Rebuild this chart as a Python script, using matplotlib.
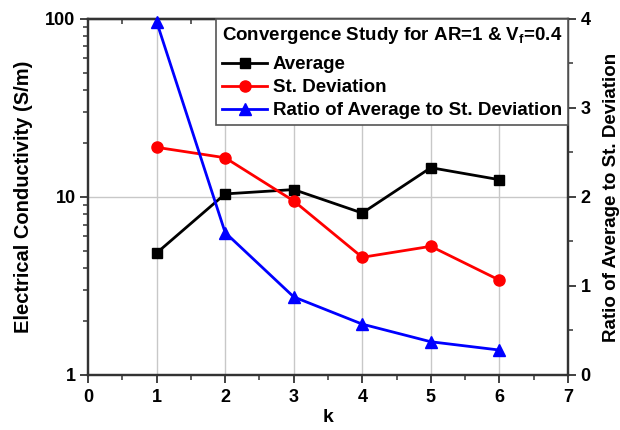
import matplotlib
matplotlib.use("Agg")
import matplotlib.pyplot as plt
from matplotlib.ticker import MultipleLocator, LogLocator, NullFormatter, FixedLocator

plt.rcParams['font.family'] = ['Liberation Sans', 'DejaVu Sans']
plt.rcParams['font.weight'] = 'bold'
plt.rcParams['mathtext.fontset'] = 'custom'
plt.rcParams['mathtext.rm'] = 'Liberation Sans:bold'
plt.rcParams['mathtext.it'] = 'Liberation Sans:bold'
plt.rcParams['mathtext.bf'] = 'Liberation Sans:bold'

k = [1, 2, 3, 4, 5, 6]
average = [4.84, 10.4, 11.0, 8.12, 14.6, 12.5]
st_deviation = [19.0, 16.6, 9.5, 4.58, 5.28, 3.41]
ratio = [3.97, 1.60, 0.877, 0.571, 0.373, 0.28]

spine_col = '#333333'
grid_col = '#c8c8c8'
tick_fs = 13
legend_fs = 13.5

fig = plt.figure(figsize=(6.2, 4.3), dpi=100)
ax = fig.add_axes([0.142, 0.128, 0.774, 0.828])
ax2 = ax.twinx()

ax.set_yscale('log')
ax.set_xlim(0, 7)
ax.set_ylim(1, 100)
ax2.set_ylim(0, 4)

# grid lines
for xv in range(1, 7):
    ax.axvline(xv, color=grid_col, lw=1.0, zorder=0)
ax.axhline(10, color=grid_col, lw=1.0, zorder=0)

l1, = ax.plot(k, average, color='black', lw=2, marker='s', ms=7,
              label='Average', zorder=3)
l2, = ax.plot(k, st_deviation, color='red', lw=2, marker='o', ms=8,
              label='St. Deviation', zorder=3)
l3, = ax2.plot(k, ratio, color='blue', lw=2, marker='^', ms=9,
               label='Ratio of Average to St. Deviation', zorder=3,
               clip_on=False)

# ticks
ax.xaxis.set_major_locator(MultipleLocator(1))
ax.xaxis.set_minor_locator(MultipleLocator(0.5))
ax.yaxis.set_major_locator(FixedLocator([1, 10, 100]))
ax.yaxis.set_minor_locator(LogLocator(base=10, subs=range(2, 10)))
ax.yaxis.set_minor_formatter(NullFormatter())
ax.set_yticklabels(['1', '10', '100'])
ax2.yaxis.set_major_locator(MultipleLocator(1))
ax2.yaxis.set_minor_locator(MultipleLocator(0.5))

ax.tick_params(axis='x', which='both', direction='out', top=False,
               labelsize=tick_fs, colors=spine_col, labelcolor='black', pad=4)
ax.tick_params(axis='x', which='major', length=6, width=1.3)
ax.tick_params(axis='x', which='minor', length=3.5, width=1.1)
ax.tick_params(axis='y', which='both', direction='out', right=False,
               labelsize=tick_fs, colors=spine_col, labelcolor='black', pad=3)
ax.tick_params(axis='y', which='major', length=6, width=1.3)
ax.tick_params(axis='y', which='minor', length=3.5, width=1.1)
ax2.tick_params(axis='y', which='both', direction='out', labelsize=tick_fs,
                colors=spine_col, labelcolor='black', pad=3)
ax2.tick_params(axis='y', which='major', length=6, width=1.3)
ax2.tick_params(axis='y', which='minor', length=3.5, width=1.1)

# top axis with inward ticks and no labels
top = ax.secondary_xaxis('top')
top.xaxis.set_major_locator(MultipleLocator(1))
top.xaxis.set_minor_locator(MultipleLocator(0.5))
top.tick_params(axis='x', which='both', direction='in', labeltop=False,
                colors=spine_col)
top.tick_params(axis='x', which='major', length=6, width=1.3)
top.tick_params(axis='x', which='minor', length=3.5, width=1.1)
top.spines['top'].set_color(spine_col)
top.spines['top'].set_linewidth(1.6)

for a in (ax, ax2):
    for s in a.spines.values():
        s.set_color(spine_col)
        s.set_linewidth(1.6)

ax.set_xlabel('k', fontsize=14, fontweight='bold', labelpad=2)
ax.set_ylabel('Electrical Conductivity (S/m)', fontsize=14.5,
              fontweight='bold', labelpad=9)
ax2.set_ylabel('Ratio of Average to St. Deviation', fontsize=13.5,
               fontweight='bold', labelpad=9)

leg = ax2.legend(handles=[l1, l2, l3],
                 title='Convergence Study for AR=1 & V$_\\mathregular{f}$=0.4',
                 loc='upper right', bbox_to_anchor=(1.0, 1.0),
                 fancybox=False, framealpha=1, edgecolor='#555555',
                 fontsize=legend_fs, title_fontsize=legend_fs,
                 borderaxespad=0, handlelength=2.4, handletextpad=0.3,
                 labelspacing=0.32, borderpad=0.3)
leg.get_title().set_fontweight('bold')
leg.get_frame().set_linewidth(1.2)
leg._legend_box.sep = 7.5  # extra room between title and entries
leg.set_zorder(5)

fig.savefig('out.png', dpi=100)
